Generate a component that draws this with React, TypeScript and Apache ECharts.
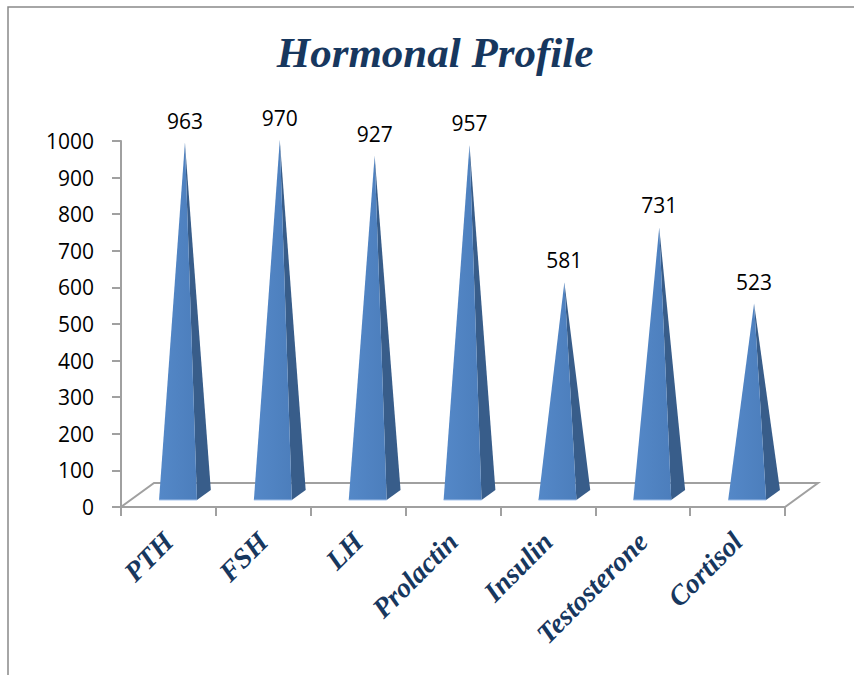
import React, { useEffect, useRef } from "react";
import * as echarts from "echarts";

const categories = ["PTH", "FSH", "LH", "Prolactin", "Insulin", "Testosterone", "Cortisol"];
const values = [963, 970, 927, 957, 581, 731, 523];
const yTicks = { min: 0, max: 1000, interval: 100 };

const DX = 33;
const DY = -24;
const SIDE = "#385D8A";
const NAVY = "#17375E";
const GRAY = "#A0A0A0";

export default function App() {
  const ref = useRef<HTMLDivElement>(null);
  useEffect(() => {
    document.body.style.margin = "0";
    const chart = echarts.init(ref.current!, null, { renderer: "svg" });
    const n = categories.length;
    chart.setOption({
      animation: false,
      backgroundColor: "#ffffff",
      title: {
        text: "Hormonal Profile",
        left: 430,
        top: 26,
        textAlign: "center",
        textStyle: {
          fontFamily: "Liberation Serif",
          fontStyle: "italic",
          fontWeight: "bold",
          fontSize: 43,
          color: NAVY,
        },
      },
      graphic: [
        {
          type: "rect",
          shape: { x: 8, y: 7, width: 900, height: 720 },
          style: { fill: "none", stroke: "#898989", lineWidth: 1.5 },
          silent: true,
          z: -10,
        },
      ],
      grid: { left: 121, right: 69, top: 141, bottom: 168 },
      xAxis: {
        type: "category",
        data: categories,
        boundaryGap: true,
        axisLine: { show: true, lineStyle: { color: GRAY, width: 2 } },
        axisTick: { show: true, length: 9, lineStyle: { color: GRAY, width: 2 } },
        axisLabel: {
          rotate: 45,
          margin: 30,
          fontFamily: "Liberation Serif",
          fontStyle: "italic",
          fontWeight: "bold",
          fontSize: 28,
          color: NAVY,
          interval: 0,
        },
        splitLine: { show: false },
      },
      yAxis: {
        type: "value",
        min: yTicks.min,
        max: yTicks.max,
        interval: yTicks.interval,
        axisLine: { show: true, lineStyle: { color: GRAY, width: 2 } },
        axisTick: { show: true, length: 9, lineStyle: { color: GRAY, width: 2 } },
        axisLabel: {
          margin: 27,
          fontFamily: "Open Sans",
          fontSize: 21,
          color: "#000000",
          formatter: (v: number) => String(v),
        },
        splitLine: { show: false },
      },
      series: [
        {
          type: "custom",
          z: 1,
          clip: false,
          silent: true,
          data: [[0, 0]],
          renderItem: (_params: any, api: any) => {
            const first = api.coord([0, 0]);
            const last = api.coord([n - 1, 0]);
            const cw = api.size([1, 0])[0];
            const l = first[0] - cw / 2;
            const r = last[0] + cw / 2;
            const y = first[1];
            return {
              type: "polygon",
              shape: {
                points: [
                  [l, y],
                  [r, y],
                  [r + DX, y + DY],
                  [l + DX, y + DY],
                ],
              },
              style: { fill: "#ffffff", stroke: GRAY, lineWidth: 2 },
            };
          },
        },
        {
          type: "custom",
          z: 3,
          clip: false,
          data: values.map((v, i) => [i, v]),
          renderItem: (_params: any, api: any) => {
            const i = api.value(0);
            const v = api.value(1);
            const base = api.coord([i, 0]);
            const top = api.coord([i, v]);
            const cw = api.size([1, 0])[0];
            const hw = cw * 0.2;
            const d0 = 0.29;
            const d1 = 0.71;
            const dm = 0.5;
            const fx = base[0] + DX * d0;
            const fy = base[1] + DY * d0;
            const bx = base[0] + DX * d1;
            const by = base[1] + DY * d1;
            const tx = base[0] + DX * dm;
            const ty = top[1] + DY * dm;
            return {
              type: "group",
              children: [
                {
                  type: "polygon",
                  shape: { points: [[fx + hw, fy], [bx + hw, by], [tx, ty]] },
                  style: { fill: SIDE },
                },
                {
                  type: "polygon",
                  shape: { points: [[fx - hw, fy], [fx + hw, fy], [tx, ty]] },
                  style: {
                    fill: new echarts.graphic.LinearGradient(0, 0, 1, 0, [
                      { offset: 0, color: "#5488C8" },
                      { offset: 1, color: "#4C7EBC" },
                    ]),
                  },
                },
                {
                  type: "line",
                  shape: { x1: fx - hw, y1: fy, x2: fx + hw, y2: fy },
                  style: { stroke: "#A9C6EC", lineWidth: 1 },
                },
                {
                  type: "text",
                  x: tx,
                  y: ty - 22,
                  style: {
                    text: String(v),
                    align: "center",
                    verticalAlign: "middle",
                    fontFamily: "Open Sans",
                    fontSize: 21,
                    fill: "#000000",
                  },
                },
              ],
            };
          },
        },
      ],
    });
    return () => chart.dispose();
  }, []);
  return <div ref={ref} style={{ width: 854, height: 675 }} />;
}
